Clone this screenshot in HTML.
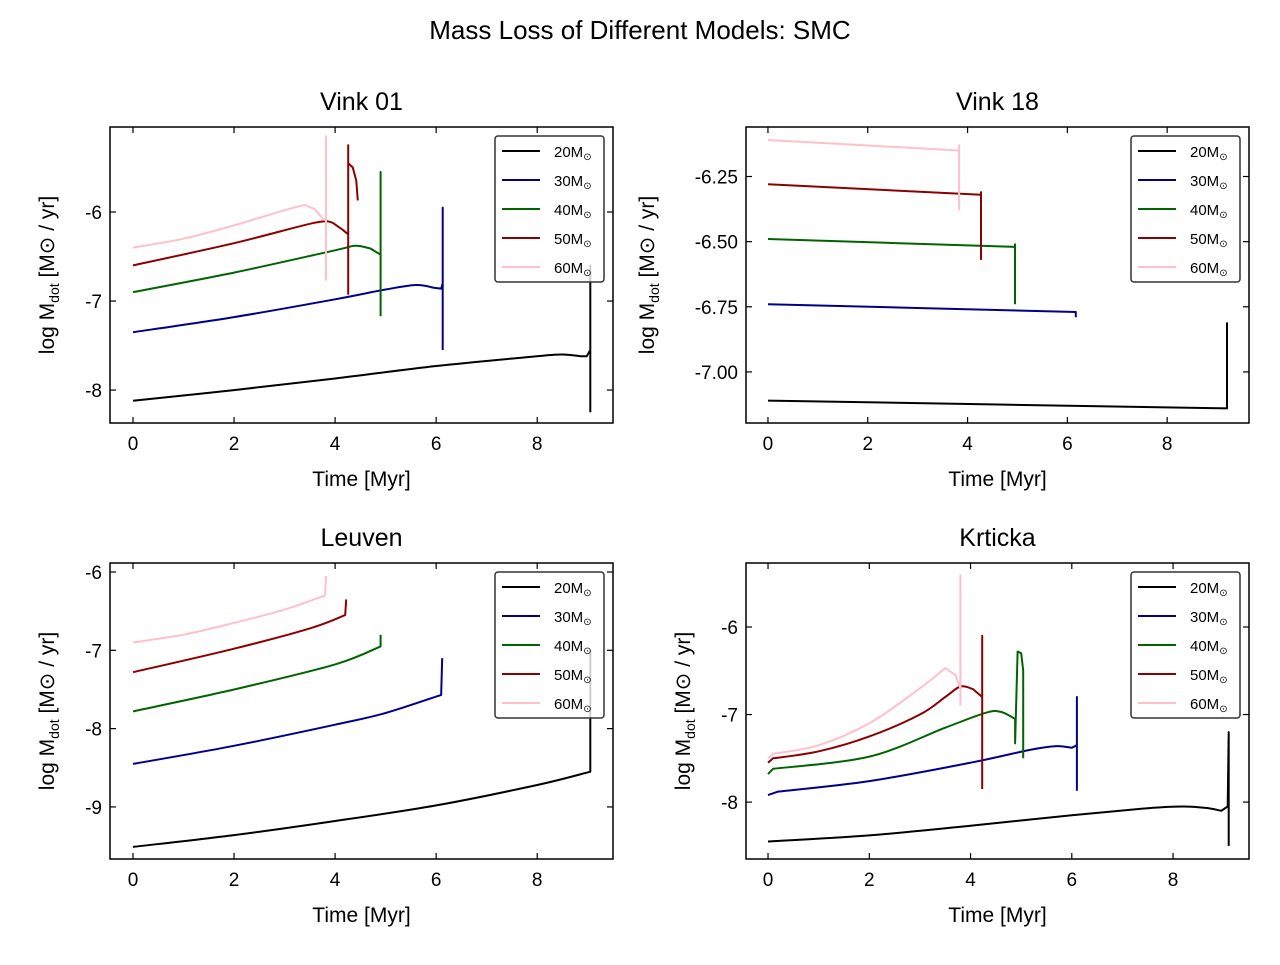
<!DOCTYPE html>
<html><head><meta charset="utf-8"><style>
body{margin:0;background:#fff;}
svg text{font-family:"Liberation Sans",sans-serif;fill:#000;}
</style></head><body>
<svg id="fig" width="1280" height="960" xmlns="http://www.w3.org/2000/svg">
<text x="640" y="39" font-size="26" text-anchor="middle">Mass Loss of Different Models: SMC</text>
</svg>
<script>
const seriesNames = ["20M","30M","40M","50M","60M"];
const colors = ["#000000","#00008b","#006400","#8b0000","#ffc0cb"];
const xTicks = [0,2,4,6,8];
const v01_20 = [[0,-8.12],[2,-8.0],[4,-7.87],[6,-7.73],[8,-7.62],[8.5,-7.6],[8.85,-7.62],[8.98,-7.62],[9.05,-7.55],[9.05,-6.6],[9.05,-8.25]];
const v01_30 = [[0,-7.35],[2,-7.18],[4,-6.98],[5,-6.87],[5.6,-6.82],[5.95,-6.85],[6.1,-6.86],[6.13,-6.8],[6.13,-5.95],[6.13,-7.55]];
const v01_40 = [[0,-6.9],[2,-6.68],[4,-6.43],[4.4,-6.38],[4.7,-6.41],[4.9,-6.48],[4.9,-5.55],[4.9,-7.17]];
const v01_50 = [[0,-6.6],[2,-6.35],[3.6,-6.12],[3.95,-6.12],[4.15,-6.2],[4.26,-6.25],[4.26,-5.25],[4.26,-6.92],[4.26,-5.45],[4.35,-5.5],[4.42,-5.65],[4.45,-5.87]];
const v01_60 = [[0,-6.4],[1,-6.3],[2,-6.15],[3,-5.98],[3.4,-5.92],[3.6,-5.97],[3.75,-6.07],[3.82,-6.1],[3.82,-5.15],[3.82,-6.77]];
const v18_20 = [[0,-7.11],[9.2,-7.14],[9.2,-6.81]];
const v18_30 = [[0,-6.74],[6.17,-6.77],[6.17,-6.79]];
const v18_40 = [[0,-6.49],[4.95,-6.52],[4.95,-6.51],[4.95,-6.74]];
const v18_50 = [[0,-6.28],[4.27,-6.32],[4.27,-6.31],[4.27,-6.57]];
const v18_60 = [[0,-6.11],[3.83,-6.15],[3.83,-6.13],[3.83,-6.38]];
const leu_20 = [[0,-9.51],[2,-9.36],[4,-9.18],[6,-8.98],[8,-8.72],[9.05,-8.55],[9.05,-8.4],[9.05,-7.0]];
const leu_30 = [[0,-8.45],[2,-8.22],[4,-7.95],[5,-7.8],[6.1,-7.57],[6.1,-7.55],[6.12,-7.1]];
const leu_40 = [[0,-7.78],[2,-7.5],[4,-7.18],[4.9,-6.95],[4.9,-6.8]];
const leu_50 = [[0,-7.28],[2,-6.98],[3.5,-6.72],[4.2,-6.55],[4.22,-6.35]];
const leu_60 = [[0,-6.9],[1,-6.8],[2,-6.65],[3,-6.48],[3.8,-6.3],[3.82,-6.05]];
const krt_20 = [[0,-8.45],[2,-8.38],[4,-8.27],[6,-8.15],[7.5,-8.07],[8.2,-8.05],[8.7,-8.07],[8.95,-8.1],[9.08,-8.05],[9.1,-7.2],[9.1,-8.5]];
const krt_30 = [[0,-7.92],[0.2,-7.88],[2,-7.76],[4,-7.55],[5.2,-7.4],[5.7,-7.36],[6.0,-7.38],[6.1,-7.35],[6.1,-6.8],[6.1,-7.87]];
const krt_40 = [[0,-7.68],[0.1,-7.62],[2,-7.48],[3.5,-7.15],[4.3,-6.98],[4.6,-6.97],[4.88,-7.05],[4.88,-7.33],[4.93,-6.28],[5.0,-6.3],[5.04,-6.5],[5.04,-7.5]];
const krt_50 = [[0,-7.55],[0.1,-7.5],[1,-7.42],[2,-7.25],[3,-7.0],[3.5,-6.8],[3.8,-6.68],[4.05,-6.71],[4.23,-6.8],[4.23,-6.1],[4.23,-7.85]];
const krt_60 = [[0,-7.5],[0.1,-7.45],[1,-7.35],[2,-7.1],[3,-6.7],[3.5,-6.47],[3.7,-6.55],[3.8,-6.7],[3.8,-5.41],[3.8,-6.9]];
const yTicks1 = [-6,-7,-8], yLabels1 = ["-6","-7","-8"];
const yTicks2 = [-6.25,-6.5,-6.75,-7.0], yLabels2 = ["-6.25","-6.50","-6.75","-7.00"];
const yTicks3 = [-6,-7,-8,-9], yLabels3 = ["-6","-7","-8","-9"];
const yTicks4 = [-6,-7,-8], yLabels4 = ["-6","-7","-8"];

const NS="http://www.w3.org/2000/svg";
const svg=document.getElementById('fig');
function mk(tag,attrs,parent){const e=document.createElementNS(NS,tag);for(const k in attrs)e.setAttribute(k,attrs[k]);(parent||svg).appendChild(e);return e;}
function smoothPath(P){
 // Catmull-Rom for wide segments, straight for near-vertical ones
 let d='M'+P[0][0].toFixed(1)+','+P[0][1].toFixed(1);
 for(let i=0;i<P.length-1;i++){
  const a=P[i],b=P[i+1];
  const dx=b[0]-a[0];
  if(dx<12){d+=' L'+b[0].toFixed(1)+','+b[1].toFixed(1);continue;}
  const p0=(i>0&&a[0]-P[i-1][0]>=12)?P[i-1]:a;
  const p3=(i+2<P.length&&P[i+2][0]-b[0]>=12)?P[i+2]:b;
  const c1=[a[0]+(b[0]-p0[0])/6,a[1]+(b[1]-p0[1])/6];
  const c2=[b[0]-(p3[0]-a[0])/6,b[1]-(p3[1]-a[1])/6];
  d+=' C'+c1[0].toFixed(1)+','+c1[1].toFixed(1)+' '+c2[0].toFixed(1)+','+c2[1].toFixed(1)+' '+b[0].toFixed(1)+','+b[1].toFixed(1);
 }
 return d;
}

const panels=[
 {name:"vink-01",title:"Vink 01",box:[110,127,613,423],xr:[-0.455,9.5],yr:[-8.37,-5.045],yt:yTicks1,yl:yLabels1,data:[v01_20,v01_30,v01_40,v01_50,v01_60]},
 {name:"vink-18",title:"Vink 18",box:[746,127,1249,423],xr:[-0.44,9.64],yr:[-7.196,-6.06],yt:yTicks2,yl:yLabels2,data:[v18_20,v18_30,v18_40,v18_50,v18_60]},
 {name:"leuven",title:"Leuven",box:[110,563,613,859],xr:[-0.455,9.5],yr:[-9.665,-5.885],yt:yTicks3,yl:yLabels3,data:[leu_20,leu_30,leu_40,leu_50,leu_60]},
 {name:"krticka",title:"Krticka",box:[746,563,1249,859],xr:[-0.435,9.5],yr:[-8.65,-5.269],yt:yTicks4,yl:yLabels4,data:[krt_20,krt_30,krt_40,krt_50,krt_60]}
];
panels.forEach(p=>{
 const [x0,y0,x1,y1]=p.box;
 const sx=v=>x0+(v-p.xr[0])/(p.xr[1]-p.xr[0])*(x1-x0);
 const sy=v=>y1-(v-p.yr[0])/(p.yr[1]-p.yr[0])*(y1-y0);
 const g=mk('g',{});
 
 
 const cid='clip-'+p.name;
 const cp=mk('clipPath',{id:cid},g);mk('rect',{x:x0,y:y0,width:x1-x0,height:y1-y0},cp);
 const lines=mk('g',{'clip-path':'url(#'+cid+')'},g);
 p.data.forEach((d,i)=>{
  const pts=d.map(q=>[sx(q[0]),sy(q[1])]);
  const pl=mk('path',{d:smoothPath(pts),fill:'none',stroke:colors[i],'stroke-width':2,'stroke-linejoin':'round'},lines);
  
  
 });
 mk('rect',{x:x0,y:y0,width:x1-x0,height:y1-y0,fill:'none',stroke:'#000','stroke-width':1.5},g);
 xTicks.forEach(t=>{
  const X=sx(t);
  mk('line',{x1:X,y1:y1,x2:X,y2:y1-6,stroke:'#000','stroke-width':1.2},g);
  mk('line',{x1:X,y1:y0,x2:X,y2:y0+6,stroke:'#000','stroke-width':1.2},g);
  const tx=mk('text',{x:X,y:y1+27,'font-size':19,'text-anchor':'middle'},g);tx.textContent=t;
  
  
 });
 p.yt.forEach((t,i)=>{
  const Y=sy(t);
  mk('line',{x1:x0,y1:Y,x2:x0+6,y2:Y,stroke:'#000','stroke-width':1.2},g);
  mk('line',{x1:x1,y1:Y,x2:x1-6,y2:Y,stroke:'#000','stroke-width':1.2},g);
  const tx=mk('text',{x:x0-8,y:Y+7,'font-size':19,'text-anchor':'end'},g);tx.textContent=p.yl[i];
  
  
 });
 const tt=mk('text',{x:(x0+x1)/2,y:y0-17,'font-size':25,'text-anchor':'middle'},g);tt.textContent=p.title;
 
 
 const xl=mk('text',{x:(x0+x1)/2,y:y1+63,'font-size':21,'text-anchor':'middle'},g);xl.textContent='Time [Myr]';
 
 
 const lx = p.name==='vink-18'?x0-92:x0-56;
 const yl=mk('text',{x:0,y:0,'font-size':21,'text-anchor':'middle',transform:`translate(${lx},${(y0+y1)/2}) rotate(-90)`},g);
 yl.innerHTML='log M<tspan font-size="14" dy="5">dot</tspan><tspan dy="-5"> [M⊙ / yr]</tspan>';
 
 
 const lg=mk('g',{},g);
 
 
 const Lx=x1-118,Ly=y0+9;
 mk('rect',{x:Lx,y:Ly,width:109,height:146,rx:3,fill:'rgba(255,255,255,0.8)',stroke:'#333','stroke-width':1.5},lg);
 seriesNames.forEach((s,i)=>{
  const Y=Ly+15+i*29;
  const e=mk('g',{},lg);
  
  
  mk('line',{x1:Lx+7,y1:Y,x2:Lx+45,y2:Y,stroke:colors[i],'stroke-width':2},e);
  const t=mk('text',{x:Lx+59,y:Y+6,'font-size':15},e);
  t.innerHTML=s.slice(0,-1)+'M<tspan font-size="10" dy="3">⊙</tspan>';
 });
});
</script>
</body></html>
